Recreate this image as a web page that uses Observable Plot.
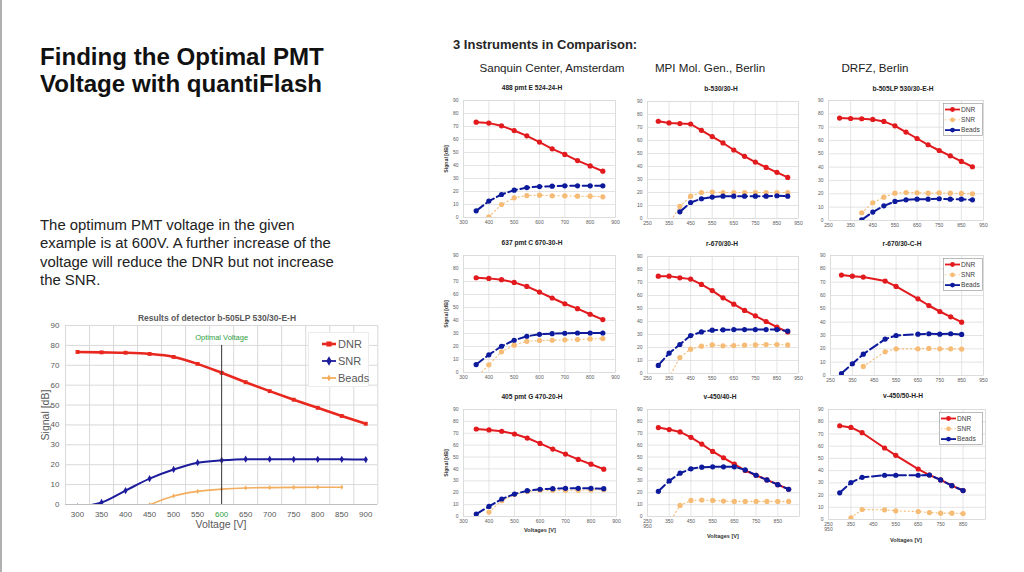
<!DOCTYPE html>
<html>
<head>
<meta charset="utf-8">
<script src="https://cdn.jsdelivr.net/npm/d3@7"></script>
<script src="https://cdn.jsdelivr.net/npm/@observablehq/plot@0.6"></script>
<style>
  body { margin: 0; background: #fff; }
  #slide { position: relative; width: 1024px; height: 572px; overflow: hidden; background: #fff;
           font-family: Arial, "Liberation Sans", sans-serif; }
  .t { position: absolute; white-space: nowrap; }
</style>
</head>
<body>
<div id="slide"><div style="position:absolute;left:0;top:0;width:2px;height:572px;background:#b0b0b0"></div></div>
<script>
// ---------- DATA ----------
// Large chart: detector b-505LP 530/30-E-H
const bigVolt  = [300, 350, 400, 450, 500, 550, 600, 650, 700, 750, 800, 850, 900];
const bigDNR   = [76.7, 76.5, 76.3, 75.7, 74.2, 70.7, 66.2, 61.5, 57.0, 52.7, 48.6, 44.5, 40.6];
const bigSNR   = [-1.2, 1.0, 7.0, 13.0, 17.6, 21.0, 22.2, 22.8, 22.8, 22.7, 22.7, 22.7, 22.6];
const bigBeads = [null, null, null, -0.2, 4.3, 6.6, 7.7, 8.3, 8.5, 8.6, 8.7, 8.7, null];
const optimalVoltage = 600;

// voltage sets of the small charts
const voltA = [350, 400, 450, 500, 550, 600, 650, 700, 750, 800, 850];
const voltB = [300, 350, 400, 450, 500, 550, 600, 650, 700, 750, 800, 850, 900];
const voltC = [300, 350, 400, 500, 550, 650, 700, 750, 800, 850];

// Sanquin Center, Amsterdam
const dnr488   = [73.3, 72.6, 70.5, 66.9, 62.8, 58.0, 52.8, 48.5, 43.8, 39.7, 35.6];
const beads488 = [5.1, 12.6, 17.7, 21.0, 23.0, 23.8, 24.1, 24.4, 24.4, 24.4, 24.4];
const snr488   = [null, 0.5, 10.0, 15.1, 16.9, 17.2, 16.7, 16.7, 16.4, 16.4, 15.9];
const dnr637   = [72.9, 72.4, 71.4, 69.3, 66.2, 61.9, 57.3, 52.9, 49.1, 44.8, 40.7];
const beads637 = [6.1, 13.6, 20.2, 24.8, 27.9, 29.4, 29.9, 30.2, 30.4, 30.4, 30.4];
const snr637   = [-4.0, 5.9, 15.9, 21.0, 24.0, 24.6, 24.8, 25.1, 25.3, 25.8, 26.1];
const dnr405   = [73.6, 72.8, 71.7, 69.4, 66.0, 61.5, 56.7, 52.5, 48.0, 44.0, 39.8];
const beads405 = [2.0, 8.5, 14.7, 18.9, 21.7, 22.9, 23.4, 23.7, 23.7, 23.7, 23.4];
const snr405   = [null, 3.7, 13.3, 18.5, 21.0, 22.0, 22.0, 22.0, 22.0, 22.3, 22.5];

// MPI Mol. Gen., Berlin
const dnrB530   = [74.8, 73.5, 73.0, 72.7, 67.8, 63.0, 58.1, 52.7, 47.8, 43.4, 39.3, 35.5, 31.6];
const beadsB530 = [null, null, 5.1, 12.3, 15.2, 16.5, 17.2, 17.2, 17.2, 17.2, 17.2, 17.5, 17.2];
const snrB530   = [null, -4.0, 9.3, 17.2, 20.0, 20.3, 20.0, 20.0, 20.0, 20.0, 20.0, 20.0, 20.0];
const dnrR670   = [74.9, 74.9, 73.6, 72.6, 68.5, 63.8, 58.2, 53.3, 48.5, 44.4, 40.0, 35.6, 32.0];
const beadsR670 = [6.2, 15.6, 22.3, 29.2, 32.0, 33.3, 33.6, 33.8, 33.8, 33.8, 33.8, 33.8, 32.6];
const snrR670   = [null, -3.0, 12.3, 18.7, 21.0, 22.0, 21.3, 21.5, 21.8, 22.0, 22.3, 22.3, 22.0];
const dnrV450   = [74.8, 73.1, 71.1, 66.6, 60.9, 54.7, 49.4, 44.0, 38.7, 34.7, 30.8, 26.8, 22.9];
const beadsV450 = [21.2, 29.9, 36.4, 40.1, 41.5, 41.8, 41.8, 41.8, 39.2, 34.7, 30.8, 26.8, 22.9];
const snrV450   = [null, -5.0, 9.3, 13.5, 13.8, 13.5, 13.0, 12.7, 12.7, 12.7, 12.7, 12.7, 12.7];

// DRFZ, Berlin
const dnrB505   = [76.8, 76.5, 76.3, 75.8, 74.3, 71.0, 66.3, 61.5, 56.8, 52.5, 48.5, 44.3, 40.3];
const beadsB505 = [null, null, 0.5, 6.3, 11.0, 14.3, 15.5, 16.0, 16.0, 16.3, 16.0, 16.0, 15.5];
const snrB505   = [null, null, 5.8, 13.3, 17.5, 20.5, 21.0, 20.8, 20.5, 20.8, 20.5, 20.3, 20.0];
const dnrR670C   = [75.3, 74.5, 73.8, 70.8, 66.8, 57.5, 52.5, 48.0, 44.0, 40.0];
const beadsR670C = [1.5, 8.8, 16.0, 27.3, 30.0, 31.0, 31.3, 31.0, 31.3, 30.8];
const snrR670C   = [null, null, 6.8, 17.8, 20.0, 20.0, 20.3, 20.0, 20.0, 19.8];
const dnrV450H   = [76.7, 75.3, 71.0, 58.5, 52.5, 41.3, 36.4, 32.4, 27.7, 23.7];
const beadsV450H = [21.8, 30.2, 34.5, 36.2, 36.2, 36.2, 36.4, 32.4, 27.7, 23.7];
const snrV450H   = [null, 1.4, 8.2, 7.9, 7.1, 6.5, 5.7, 5.2, 5.2, 4.9];

const seriesNames = ["DNR", "SNR", "Beads"];
const bigSeriesNames = ["DNR", "SNR", "Beads"];
const yTicks = d3.range(0, 91, 10);

// ---------- STYLE ----------
const RED = "#e2191d", BLUE = "#0d1a9c", ORANGE = "#f6bb74";
const BRED = "#e8281e", BBLUE = "#1c1c9c", BORANGE = "#f3ae5f";
const GRID = "#d9d9d9", GRAY = "#595959", GREEN = "#2e9e3e";
const FONT = 'Arial, "Liberation Sans", sans-serif';

const slide = document.getElementById("slide");

function text(str, cx, baseline, size, opts = {}) {
  const d = document.createElement("div");
  d.className = "t";
  d.textContent = str;
  d.style.fontSize = size + "px";
  d.style.lineHeight = size + "px";
  d.style.top = (baseline - 0.8465 * size) + "px";
  d.style.fontWeight = opts.bold ? "bold" : "normal";
  d.style.color = opts.color || "#000";
  d.style.left = cx + "px";
  if (opts.align !== "left") d.style.transform = "translateX(-50%)";
  slide.appendChild(d);
  return d;
}
function vtext(str, cx, cy, size, opts = {}) {
  const d = document.createElement("div");
  d.className = "t";
  d.textContent = str;
  d.style.fontSize = size + "px";
  d.style.lineHeight = size + "px";
  d.style.left = cx + "px";
  d.style.top = cy + "px";
  d.style.fontWeight = opts.bold ? "bold" : "normal";
  d.style.color = opts.color || "#000";
  d.style.transform = "translate(-50%,-50%) rotate(-90deg)";
  slide.appendChild(d);
}

// ---------- LEFT TEXT ----------
const h = document.createElement("div");
h.className = "t";
h.style.cssText = "left:40px;top:43px;font-size:24.1px;line-height:27px;font-weight:bold;color:#111;";
h.innerHTML = "Finding the Optimal PMT<br>Voltage with quantiFlash";
slide.appendChild(h);

const p = document.createElement("div");
p.className = "t";
p.style.cssText = "left:40px;top:216px;font-size:14.9px;line-height:18.3px;color:#222;";
p.innerHTML = "The optimum PMT voltage in the given<br>example is at 600V. A further increase of the<br>voltage will reduce the DNR but not increase<br>the SNR.";
slide.appendChild(p);

// ---------- BIG CHART ----------
{
  const L = 64.7, R = 377, T = 325, B = 504;
  const ml = 25, mr = 4, mt = 4, mb = 16;
  const rows = bigVolt.map((v, i) => ({ v, dnr: bigDNR[i], snr: bigSNR[i], beads: bigBeads[i] }));
  const svg = Plot.plot({
    width: R - L + ml + mr, height: B - T + mt + mb,
    marginLeft: ml, marginRight: mr, marginTop: mt, marginBottom: mb,
    x: { domain: [275, 925] },
    y: { domain: [0, 90] },
    style: { fontFamily: FONT, fontSize: "8px", color: GRAY, background: "none", overflow: "visible" },
    marks: [
      Plot.gridY(d3.range(10, 91, 10), { stroke: GRID, strokeOpacity: 1 }),
      Plot.gridX(d3.range(275, 926, 50), { stroke: GRID, strokeOpacity: 1 }),
      Plot.ruleY([0], { stroke: "#bfbfbf" }),
      Plot.axisY(yTicks, { tickSize: 0, tickPadding: 6, label: null, fill: GRAY }),
      Plot.axisX(bigVolt, { tickSize: 0, tickPadding: 7, label: null, fill: d => d === optimalVoltage ? GREEN : GRAY }),
      Plot.line(rows, { x: "v", y: "beads", stroke: BORANGE, strokeWidth: 1.6, curve: "monotone-x", clip: true }),
      Plot.dot(rows, { x: "v", y: "beads", r: 1.6, fill: BORANGE, symbol: "diamond", clip: true }),
      Plot.line(rows, { x: "v", y: "snr", stroke: BBLUE, strokeWidth: 2, curve: "monotone-x", clip: true }),
      Plot.dot(rows, { x: "v", y: "snr", r: 2.2, fill: BBLUE, symbol: "diamond", clip: true }),
      Plot.line(rows, { x: "v", y: "dnr", stroke: BRED, strokeWidth: 2.6, curve: "monotone-x" }),
      Plot.dot(rows, { x: "v", y: "dnr", r: 2.2, fill: BRED, symbol: "square" }),
      Plot.ruleX([optimalVoltage], { y1: 0, y2: 80, stroke: "#333", strokeWidth: 1 }),
      Plot.text([optimalVoltage], { x: d => d, y: 84, text: () => "Optimal Voltage", fill: GREEN, fontSize: 7.5 })
    ]
  });
  svg.style.position = "absolute";
  svg.style.left = (L - ml) + "px";
  svg.style.top = (T - mt) + "px";
  slide.appendChild(svg);

  text("Results of detector b-505LP 530/30-E-H", 217, 321, 8.5, { bold: true, color: GRAY });
  vtext("Signal [dB]", 45, 415, 10.5, { color: GRAY });
  text("Voltage [V]", 221, 528, 10.5, { color: GRAY });

  // legend
  const lg = d3.create("svg").attr("width", 62).attr("height", 56)
    .style("position", "absolute").style("left", "308px").style("top", "332px");
  lg.append("rect").attr("x", 0.5).attr("y", 0.5).attr("width", 60).attr("height", 54)
    .attr("fill", "#fff").attr("stroke", "#ececec");
  const cols = [BRED, BBLUE, BORANGE];
  const syms = [d3.symbolSquare, d3.symbolDiamond, d3.symbolDiamond];
  bigSeriesNames.forEach((n, i) => {
    const y = 12 + i * 17;
    lg.append("line").attr("x1", 14).attr("x2", 28).attr("y1", y).attr("y2", y)
      .attr("stroke", cols[i]).attr("stroke-width", i === 0 ? 2.6 : 1.8);
    lg.append("path").attr("d", d3.symbol(syms[i], i === 2 ? 14 : 26)()).attr("transform", `translate(21,${y})`).attr("fill", cols[i]);
    lg.append("text").attr("x", 30).attr("y", y + 4).attr("font-size", 11).attr("font-family", FONT)
      .attr("fill", GRAY).text(n);
  });
  slide.appendChild(lg.node());
}

// ---------- RIGHT HEADERS ----------
text("3 Instruments in Comparison:", 453, 49, 13, { bold: true, color: "#262626", align: "left" });
text("Sanquin Center, Amsterdam", 552, 72, 11.6, { color: "#222" });
text("MPI Mol. Gen., Berlin", 710, 72, 11.6, { color: "#222" });
text("DRFZ, Berlin", 875, 72, 11.6, { color: "#222" });

// ---------- SMALL PANELS ----------
function smallPanel(c) {
  const ml = 16, mr = 3, mt = 3, mb = 14;
  const rows = c.v.map((v, i) => ({ v, dnr: c.dnr[i], snr: c.snr[i], beads: c.beads[i] }));
  const gx = d3.range(c.x0, c.x1 + 1, 100);
  const svg = Plot.plot({
    width: c.R - c.L + ml + mr, height: c.B - c.T + mt + mb,
    marginLeft: ml, marginRight: mr, marginTop: mt, marginBottom: mb,
    x: { domain: [c.x0, c.x1] },
    y: { domain: [0, 90] },
    style: { fontFamily: FONT, fontSize: "5px", color: GRAY, background: "none", overflow: "visible" },
    marks: [
      Plot.gridY(yTicks, { stroke: GRID, strokeOpacity: 1, strokeWidth: 0.7 }),
      Plot.gridX(gx, { stroke: GRID, strokeOpacity: 1, strokeWidth: 0.7 }),
      Plot.frame({ stroke: GRID, strokeWidth: 0.7 }),
      Plot.axisY(yTicks, { tickSize: 0, tickPadding: 5, label: null, fill: GRAY }),
      Plot.axisX(c.labels || gx, { tickSize: 0, tickPadding: 3, label: null, fill: GRAY,
        tickFormat: c.fmt || (d => String(d)) }),
      Plot.line(rows, { x: "v", y: "snr", stroke: ORANGE, strokeWidth: 1.1, strokeDasharray: "1.2,2.8", clip: true }),
      Plot.dot(rows, { x: "v", y: "snr", r: 2.6, fill: ORANGE, clip: true }),
      Plot.line(rows, { x: "v", y: "dnr", stroke: RED, strokeWidth: 2 }),
      Plot.dot(rows, { x: "v", y: "dnr", r: 2.6, fill: RED }),
      Plot.line(rows, { x: "v", y: "beads", stroke: BLUE, strokeWidth: 2, strokeDasharray: "9,3.5", clip: true }),
      Plot.dot(rows, { x: "v", y: "beads", r: 2.6, fill: BLUE, clip: true })
    ]
  });
  svg.style.position = "absolute";
  svg.style.left = (c.L - ml) + "px";
  svg.style.top = (c.T - mt) + "px";
  slide.appendChild(svg);
  text(c.title, c.tx, c.ty, 6.6, { bold: true, color: "#222" });
  if (c.ylab) vtext("Signal [dB]", c.L - 16, (c.T + c.B) / 2, 5.2, { bold: true, color: "#333" });
  if (c.xlab) text("Voltages [V]", c.xlab[0], c.xlab[1], 5.6, { bold: true, color: "#333" });
  if (c.legend) smallLegend(c.legend[0], c.legend[1], c.legend[2]);
}

function smallLegend(x, y, w) {
  const lg = d3.create("svg").attr("width", w).attr("height", 33)
    .style("position", "absolute").style("left", x + "px").style("top", y + "px");
  lg.append("rect").attr("x", 0.5).attr("y", 0.5).attr("width", w - 1).attr("height", 32)
    .attr("fill", "#fff").attr("stroke", "#8c8c8c").attr("stroke-width", 0.6);
  const cols = [RED, ORANGE, BLUE];
  seriesNames.forEach((n, i) => {
    const yy = 6.5 + i * 10.3;
    lg.append("line").attr("x1", 2).attr("x2", 17).attr("y1", yy).attr("y2", yy)
      .attr("stroke", cols[i]).attr("stroke-width", i === 1 ? 1 : 1.8)
      .attr("stroke-dasharray", i === 1 ? "1.2,2.2" : null);
    lg.append("circle").attr("cx", 9.5).attr("cy", yy).attr("r", 2.4).attr("fill", cols[i]);
    lg.append("text").attr("x", 18).attr("y", yy + 2.3).attr("font-size", 6.6).attr("font-family", FONT)
      .attr("fill", "#404040").text(n);
  });
  slide.appendChild(lg.node());
}

const wrapFmt = d => d === 250 ? "250\n950" : String(d);
const wrapLabels = [250, 350, 450, 550, 650, 750, 850];

const panels = [
  { title: "488 pmt E 524-24-H", v: voltA, dnr: dnr488, snr: snr488, beads: beads488,
    x0: 300, x1: 900, L: 463, R: 615, T: 100, B: 217, tx: 532, ty: 91, ylab: true },
  { title: "637 pmt C 670-30-H", v: voltA, dnr: dnr637, snr: snr637, beads: beads637,
    x0: 300, x1: 900, L: 463, R: 615, T: 255, B: 372, tx: 532, ty: 246, ylab: true },
  { title: "405 pmt G 470-20-H", v: voltA, dnr: dnr405, snr: snr405, beads: beads405,
    x0: 300, x1: 900, L: 463, R: 616, T: 409, B: 516, tx: 532, ty: 400, ylab: true, xlab: [540, 533] },
  { title: "b-530/30-H", v: voltB, dnr: dnrB530, snr: snrB530, beads: beadsB530,
    x0: 250, x1: 950, L: 647, R: 798, T: 101, B: 218, tx: 721, ty: 92 },
  { title: "r-670/30-H", v: voltB, dnr: dnrR670, snr: snrR670, beads: beadsR670,
    x0: 250, x1: 950, L: 647, R: 798, T: 256, B: 373, tx: 722, ty: 247 },
  { title: "v-450/40-H", v: voltB, dnr: dnrV450, snr: snrV450, beads: beadsV450,
    x0: 250, x1: 950, L: 647, R: 799, T: 409, B: 516, tx: 720, ty: 400, xlab: [723, 539],
    labels: wrapLabels, fmt: wrapFmt },
  { title: "b-505LP 530/30-E-H", v: voltB, dnr: dnrB505, snr: snrB505, beads: beadsB505,
    x0: 250, x1: 950, L: 828, R: 983, T: 100, B: 220, tx: 903, ty: 92, legend: [943, 103, 40] },
  { title: "r-670/30-C-H", v: voltC, dnr: dnrR670C, snr: snrR670C, beads: beadsR670C,
    x0: 250, x1: 950, L: 830, R: 983, T: 255, B: 375, tx: 902, ty: 247, legend: [943, 258, 40] },
  { title: "v-450/50-H-H", v: voltC, dnr: dnrV450H, snr: snrV450H, beads: beadsV450H,
    x0: 250, x1: 950, L: 828, R: 985, T: 409, B: 519, tx: 903, ty: 399, xlab: [906, 543],
    labels: wrapLabels, fmt: wrapFmt, legend: [939, 412, 44] }
];
panels.forEach(smallPanel);
</script>
</body>
</html>
